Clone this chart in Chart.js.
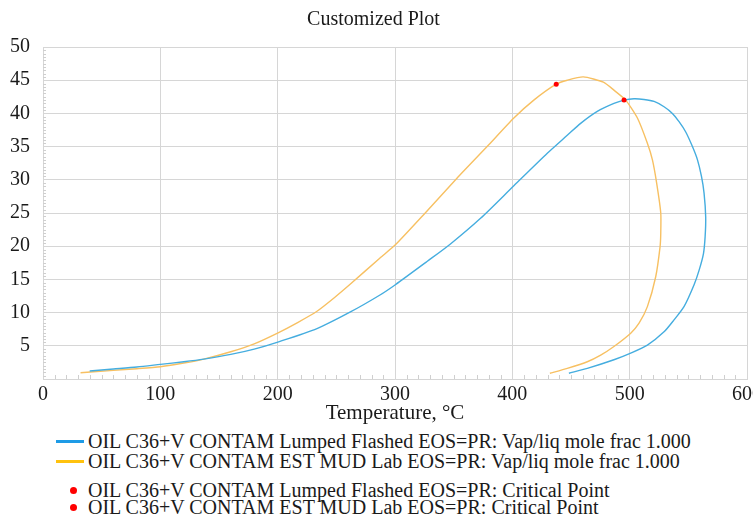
<!DOCTYPE html>
<html>
<head>
<meta charset="utf-8">
<script src="https://cdn.jsdelivr.net/npm/chart.js@4"></script>
<style>
  body { margin: 0; background: #fff; }
  #wrap { position: relative; width: 753px; height: 514px; font-family: "Liberation Serif", "Times New Roman", serif; color: #1a1a1a; }
  #box { position: absolute; left: 0; top: 0; width: 753px; height: 430px; }
  .row { position: absolute; left: 0; font-size: 20px; line-height: 20px; white-space: nowrap; }
  .row .txt { position: absolute; left: 88px; top: 0; }
  .swatch { position: absolute; left: 56px; top: 9px; width: 28px; height: 3px; }
  .dot { position: absolute; left: 70px; top: 7px; width: 7px; height: 7px; border-radius: 50%; background: #ff0000; }
</style>
</head>
<body>
<div id="wrap">
  <div id="box"><canvas id="chart"></canvas></div>
  <div class="row" style="top:431px"><span class="swatch" style="background:#1e9be6"></span><span class="txt">OIL C36+V CONTAM Lumped Flashed EOS=PR: Vap/liq mole frac 1.000</span></div>
  <div class="row" style="top:451px"><span class="swatch" style="background:#ffc20e"></span><span class="txt">OIL C36+V CONTAM EST MUD Lab EOS=PR: Vap/liq mole frac 1.000</span></div>
  <div class="row" style="top:480px"><span class="dot"></span><span class="txt">OIL C36+V CONTAM Lumped Flashed EOS=PR: Critical Point</span></div>
  <div class="row" style="top:497px"><span class="dot"></span><span class="txt">OIL C36+V CONTAM EST MUD Lab EOS=PR: Critical Point</span></div>
</div>
<script>
// phase envelope, Lumped Flashed (temperature °C, pressure)
const lumpedT = [39.8, 60, 80, 100, 120, 137, 160, 180, 200.8, 233.5, 262, 287.2, 300.3, 327.3, 347, 372.9, 401.3, 429.8, 446.8, 458.2, 472.4, 486.6, 495.2, 503.7, 512.2, 520.8, 529.3, 536.4, 542.1, 547.8, 553.5, 557.8, 561.2, 563.4, 564.8, 564.3, 562.9, 559.2, 554.9, 546.3, 537.8, 529.3, 515.1, 500.9, 486.6, 463.9, 448.2];
const lumpedP = [1.2, 1.5, 1.8, 2.2, 2.6, 3.0, 3.7, 4.5, 5.6, 7.6, 10.1, 12.65, 14.2, 17.7, 20.3, 24.2, 29.1, 34.0, 36.7, 38.5, 40.3, 41.5, 42.0, 42.2, 42.1, 41.8, 41.0, 40.0, 38.75, 37.2, 35.0, 33.0, 30.5, 28.0, 24.4, 21.4, 18.9, 16.4, 14.2, 10.9, 8.9, 7.1, 5.1, 3.9, 2.9, 1.6, 0.86];

// phase envelope, EST MUD Lab
const mudT = [32, 60, 80, 100, 120, 137, 160, 180, 200.8, 217, 233.5, 248, 262, 287, 300.3, 324.2, 352.6, 378.5, 401.3, 418.3, 437.4, 446.8, 460.5, 477.6, 486.6, 496.6, 506.6, 515.1, 519.4, 523, 526.5, 526.5, 525.9, 522.2, 515.1, 508, 500.9, 486.6, 475.3, 463.9, 446.8, 432];
const mudP = [0.95, 1.3, 1.55, 1.85, 2.4, 3.0, 4.1, 5.3, 7.0, 8.5, 10.2, 12.2, 14.3, 18.2, 20.2, 24.7, 30.2, 35.0, 39.3, 42.0, 44.4, 45.0, 45.5, 44.7, 43.5, 42.0, 39.3, 35.5, 33.0, 29.5, 25.0, 21.9, 19.9, 15.4, 10.9, 8.4, 6.9, 4.9, 3.6, 2.6, 1.6, 0.86];

// critical points [T, P]
const critLumped = [495.2, 42.0];
const critMud = [437.4, 44.4];

const xTicks = [0, 100, 200, 300, 400, 500, 600];
const yTicks = [5, 10, 15, 20, 25, 30, 35, 40, 45, 50];

const toPts = (xs, ys) => xs.map((x, i) => ({ x: x, y: ys[i] }));

const serif = "'Liberation Serif', 'Times New Roman', serif";
const grid = "#d6d6d6";

// small inner ticks along the axes
const minorTicks = {
  id: "minorTicks",
  afterDraw(chart) {
    const { ctx, chartArea, scales } = chart;
    ctx.save();
    ctx.strokeStyle = "#cfcfcf";
    ctx.lineWidth = 1;
    ctx.beginPath();
    for (let v = 10; v < 600; v += 10) {
      if (v % 100 === 0) continue;
      const px = Math.round(scales.x.getPixelForValue(v)) + 0.5;
      ctx.moveTo(px, chartArea.bottom);
      ctx.lineTo(px, chartArea.bottom - 4);
    }
    for (let v = 0.5; v < 50; v += 0.5) {
      if (v % 5 === 0) continue;
      const py = Math.round(scales.y.getPixelForValue(v)) + 0.5;
      ctx.moveTo(chartArea.left, py);
      ctx.lineTo(chartArea.left + 3, py);
    }
    ctx.stroke();
    ctx.restore();
  },
};

new Chart(document.getElementById("chart"), {
  type: "scatter",
  data: {
    datasets: [
      {
        label: "OIL C36+V CONTAM Lumped Flashed EOS=PR: Vap/liq mole frac 1.000",
        data: toPts(lumpedT, lumpedP),
        showLine: true,
        borderColor: "#45addf",
        borderWidth: 1.4,
        pointRadius: 0,
        tension: 0.25,
        order: 2,
      },
      {
        label: "OIL C36+V CONTAM EST MUD Lab EOS=PR: Vap/liq mole frac 1.000",
        data: toPts(mudT, mudP),
        showLine: true,
        borderColor: "#f7c062",
        borderWidth: 1.4,
        pointRadius: 0,
        tension: 0.2,
        order: 2,
      },
      {
        label: "OIL C36+V CONTAM Lumped Flashed EOS=PR: Critical Point",
        data: [{ x: critLumped[0], y: critLumped[1] }],
        pointRadius: 2.5,
        backgroundColor: "#ff0000",
        borderWidth: 0,
        order: 0,
      },
      {
        label: "OIL C36+V CONTAM EST MUD Lab EOS=PR: Critical Point",
        data: [{ x: critMud[0], y: critMud[1] }],
        pointRadius: 2.5,
        backgroundColor: "#ff0000",
        borderWidth: 0,
        order: 0,
      },
    ],
  },
  options: {
    responsive: true,
    maintainAspectRatio: false,
    animation: false,
    layout: { padding: { left: 0, right: 6, top: 0, bottom: 0 } },
    plugins: {
      legend: { display: false },
      tooltip: { enabled: false },
      title: {
        display: true,
        text: "Customized Plot",
        color: "#1a1a1a",
        font: { family: serif, size: 20, weight: "normal" },
        padding: { top: 8, bottom: 15 },
      },
    },
    scales: {
      x: {
        type: "linear",
        min: 0,
        max: 600,
        afterBuildTicks: (s) => { s.ticks = xTicks.map((v) => ({ value: v })); },
        afterFit: (s) => { s.height = 51; s.paddingLeft = 0; s.paddingRight = 0; },
        grid: { color: grid, drawTicks: false },
        border: { color: grid },
        ticks: { color: "#1a1a1a", font: { family: serif, size: 20 }, padding: 4, maxRotation: 0 },
        title: {
          display: true,
          text: "Temperature, °C",
          color: "#1a1a1a",
          font: { family: serif, size: 21 },
          padding: { top: 0, bottom: 4 },
        },
      },
      y: {
        type: "linear",
        min: 0,
        max: 50,
        afterBuildTicks: (s) => { s.ticks = [0].concat(yTicks).map((v) => ({ value: v })); },
        afterFit: (s) => { s.width = 43; s.paddingTop = 0; s.paddingBottom = 0; },
        grid: { color: grid, drawTicks: false },
        border: { color: grid },
        ticks: {
          color: "#1a1a1a",
          font: { family: serif, size: 20 },
          padding: 13,
          callback: (v) => (v === 0 ? "" : v),
        },
      },
    },
  },
  plugins: [minorTicks],
});
</script>
</body>
</html>
